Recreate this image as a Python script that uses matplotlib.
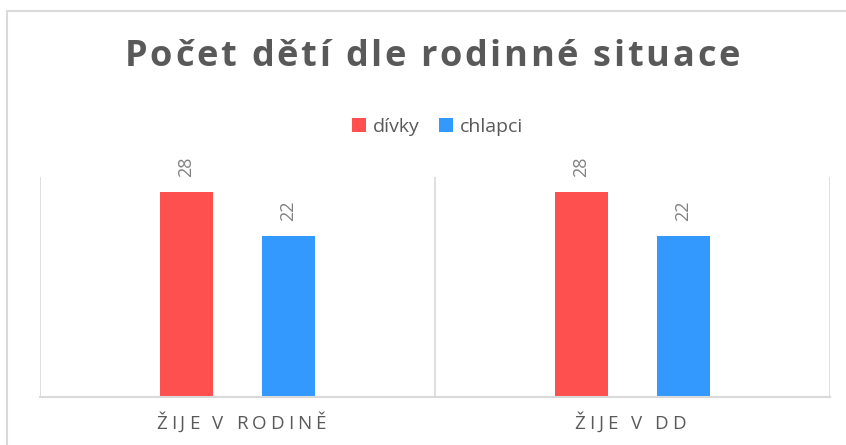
import numpy as np
import matplotlib
matplotlib.use("Agg")
import matplotlib.pyplot as plt
from matplotlib.lines import Line2D

# data
categories = ["ŽIJE V RODINĚ", "ŽIJE V DD"]
series = ["dívky", "chlapci"]
divky = [28, 28]
chlapci = [22, 22]
colors = ["#FF5050", "#3399FF"]
title = "Počet dětí dle rodinné situace"

W, H = 846, 445
plt.rcParams['font.family'] = ['Open Sans', 'DejaVu Sans']
fig = plt.figure(figsize=(W / 100, H / 100), dpi=100)

# outer chart border (only left and top visible)
fig.lines.append(Line2D([7 / W, 7 / W, 1], [0, 1 - 11 / H, 1 - 11 / H], transform=fig.transFigure,
                        color="#d9d9d9", linewidth=1.5))

# plot area
ax = fig.add_axes([40 / W, (H - 397) / H, (830 - 40) / W, (397 - 177) / H])
x = np.arange(len(categories))
bw = 0.134
off = 0.129
b1 = ax.bar(x - off, divky, bw, color=colors[0], label=series[0])
b2 = ax.bar(x + off, chlapci, bw, color=colors[1], label=series[1])
ax.set_xlim(-0.5, len(categories) - 0.5)
ax.set_ylim(0, 30)
ax.set_yticks([])
ax.set_xticks([])
for s in ["top", "right", "left"]:
    ax.spines[s].set_visible(False)
ax.spines["bottom"].set_color("#d9d9d9")
ax.spines["bottom"].set_linewidth(1.5)
for xs in [-0.5, 0.5, 1.5]:
    ax.axvline(xs, color="#d9d9d9", linewidth=1.2)

for bars in (b1, b2):
    for b in bars:
        ax.annotate(f"{int(b.get_height())}", (b.get_x() + b.get_width() / 2, b.get_height()),
                    xytext=(0, 15), textcoords="offset pixels", rotation=90,
                    ha="center", va="bottom", fontsize=13, color="#808080",
                    annotation_clip=False)

fig.canvas.draw()
renderer = fig.canvas.get_renderer()


def text_w(s, **kw):
    t = fig.text(0, 0, "|" + s + "|", **kw)
    w = t.get_window_extent(renderer).width
    t.remove()
    t = fig.text(0, 0, "||", **kw)
    w0 = t.get_window_extent(renderer).width
    t.remove()
    return w - w0


def char_widths(s, **kw):
    # advance of each char, taken as differences of prefix widths
    prev = 0
    widths = []
    for i in range(len(s)):
        cur = text_w(s[:i + 1], **kw)
        widths.append(cur - prev)
        prev = cur
    return widths


def spaced_text(xc, yc, s, spacing, **kw):
    # text drawn char by char with extra letter spacing (pixels), centered at xc, yc (pixels from top-left)
    widths = char_widths(s, **kw)
    total = sum(widths) + spacing * (len(s) - 1)
    cur = xc - total / 2
    for ch, w in zip(s, widths):
        if ch != " ":
            fig.text(cur / W, 1 - yc / H, ch, ha="left", va="center", **kw)
        cur += w + spacing


title_kw = dict(fontsize=26, fontweight="bold", color="#595959")
tw = char_widths(title, **title_kw)
title_sp = (615 - sum(tw)) / (len(title) - 1)
spaced_text(432, 57, title, title_sp, **title_kw)

cat_kw = dict(fontsize=13.5, color="#595959")
cw = char_widths(categories[0], **cat_kw)
cat_sp = (170 - sum(cw)) / (len(categories[0]) - 1)
cat_px = [241, 630]
for c, px in zip(categories, cat_px):
    spaced_text(px, 424, c, cat_sp, **cat_kw)

leg = fig.legend(handles=[b1, b2], labels=series, loc="center", bbox_to_anchor=(438 / W, 1 - 127 / H),
                 ncol=2, frameon=False, fontsize=14, handlelength=0.72, handleheight=0.72,
                 handletextpad=0.35, columnspacing=1.0, labelcolor="#595959",
                 borderpad=0, borderaxespad=0)

fig.savefig("out.png", dpi=100)
